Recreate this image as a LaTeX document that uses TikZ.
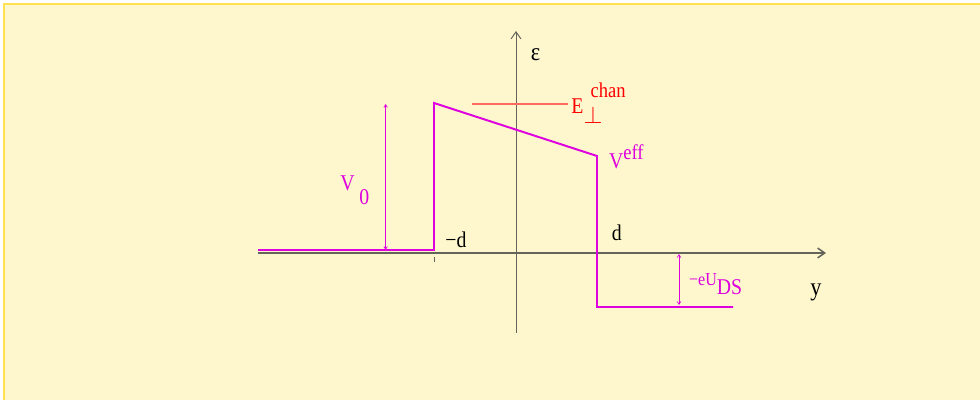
\documentclass[tikz,border=0pt]{standalone}
\usepackage{fontspec}
\setmainfont[FakeStretch=0.88]{Liberation Serif}
\usetikzlibrary{arrows.meta}
\definecolor{paper}{RGB}{254,247,206}
\definecolor{rim}{RGB}{255,224,80}
\definecolor{axisgray}{RGB}{100,100,90}
\definecolor{potmag}{RGB}{222,0,222}
\definecolor{chanred}{RGB}{255,0,0}
\definecolor{chanline}{RGB}{255,105,95}
\tikzset{
  axisline/.style={draw=axisgray, line width=1.1pt, -{Straight Barb[length=5pt,width=7pt]}},
  potline/.style={draw=potmag, line width=1.4pt, line join=miter},
  dimline/.style={draw=potmag, line width=0.5pt, {Straight Barb[length=2pt,width=2.5pt]}-{Straight Barb[length=2pt,width=2.5pt]}},
  lbl/.style={font=\fontsize{16}{19}\selectfont, inner sep=0pt},
  sublbl/.style={font=\fontsize{13}{16}\selectfont, inner sep=0pt},
}

\begin{document}
\begin{tikzpicture}
\useasboundingbox (0,0) rectangle (24.5,10);
% sheet
\fill[paper] (0.1,0) rectangle (24.5,9.9);
\draw[rim, line width=1.4pt] (0.1,0) -- (0.1,9.9) -- (24.5,9.9);
% axes
\coordinate (xl) at (6.45,3.675);
\coordinate (xr) at (20.65,3.675);
\coordinate (yb) at (12.9,1.675);
\coordinate (yt) at (12.9,9.225);
\draw[axisline] (xl) -- (xr);
\draw[axisline, line width=0.7pt] (yb) -- (yt);
\node[lbl, font=\fontsize{18}{20}\selectfont] (eps) at (13.39,8.63) {ε};
\node[lbl, font=\fontsize{18}{20}\selectfont] (ylab) at (20.4,2.68) {y};
% potential profile
\coordinate (p1) at (6.45,3.75);
\coordinate (p2) at (10.85,3.75);
\coordinate (p3) at (10.85,7.425);
\coordinate (p4) at (14.925,6.1);
\coordinate (p5) at (14.925,2.325);
\coordinate (p6) at (18.325,2.325);
\draw[potline] (p1) -- (p2) -- (p3) -- (p4) -- (p5) -- (p6);
% tick at -d
\coordinate (t1) at (10.85,3.58);
\coordinate (t2) at (10.85,3.46);
\draw[axisgray, line width=0.5pt] (t1) -- (t2);
\node[lbl] (mdlab) at (11.4,4.0) {−d};
\node[lbl] (dlab) at (15.42,4.17) {d};
% barrier height
\coordinate (v0b) at (9.64,3.75);
\coordinate (v0t) at (9.64,7.4);
\draw[dimline] (v0b) -- (v0t);
\node[lbl, text=potmag, anchor=west] (v0lab) at (8.5,5.25) {V\kern3.5pt\raisebox{-1.4ex}{0}};
% channel energy
\coordinate (el) at (11.8,7.4);
\coordinate (er) at (14.2,7.4);
\draw[chanline, line width=1pt] (el) -- (er);
\node[lbl, text=chanred, anchor=west] (elab) at (14.28,7.42)
  {E\makebox[0pt][l]{\raisebox{1.55ex}{\kern5pt\fontsize{15}{17}\selectfont chan}}\raisebox{-1.0ex}{$\perp$}};
\node[lbl, text=potmag, anchor=west] (vefflab) at (15.22,6.08)
  {V\raisebox{0.95ex}{\fontsize{15}{17}\selectfont eff}};
% source-drain drop
\coordinate (ub) at (16.975,2.375);
\coordinate (ut) at (16.975,3.65);
\draw[dimline] (ub) -- (ut);
\node[sublbl, text=potmag, anchor=west] (udslab) at (17.22,2.9)
  {−eU\raisebox{-1.15ex}{\fontsize{16}{18}\selectfont DS}};
\end{tikzpicture}
\end{document}
